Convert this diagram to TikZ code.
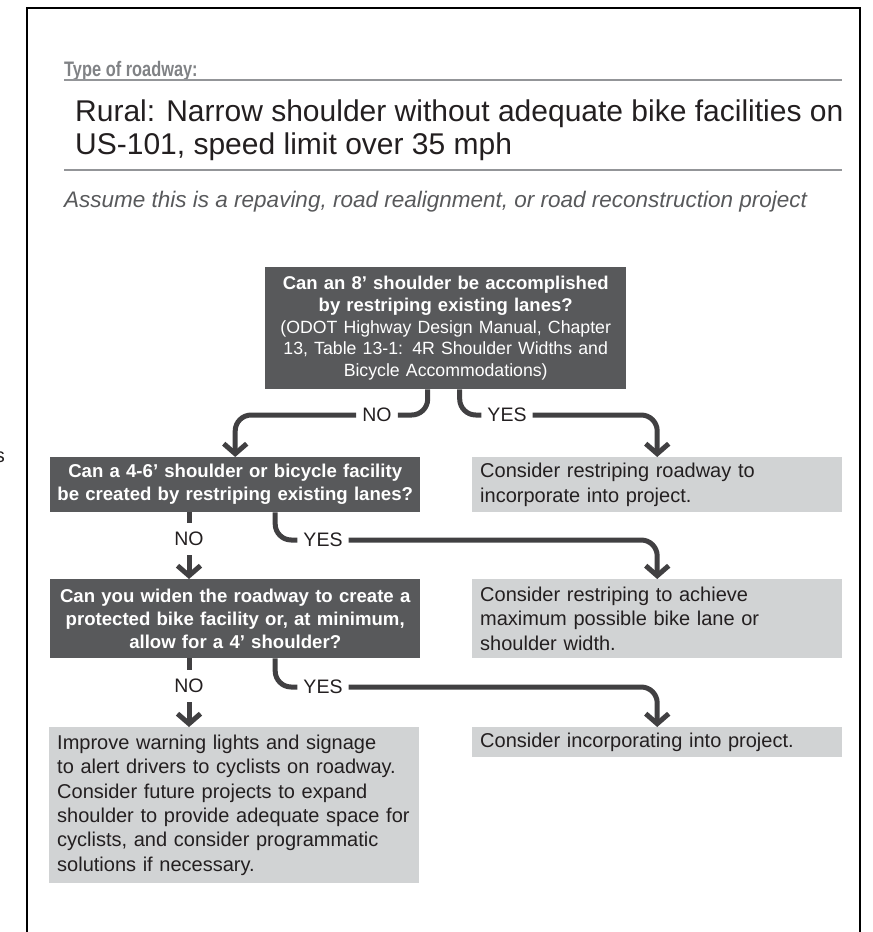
\documentclass[tikz,border=0pt]{standalone}
\usepackage{fontspec}
\setmainfont{Liberation Sans}
\newfontfamily\condfont[FakeStretch=0.78]{Liberation Sans}
\usetikzlibrary{arrows.meta,positioning,calc}
\definecolor{boxdark}{HTML}{58595B}
\definecolor{boxlight}{HTML}{D1D3D4}
\definecolor{flowgray}{HTML}{414042}
\definecolor{textdark}{HTML}{231F20}
\definecolor{headgray}{HTML}{808285}
\definecolor{rulegray}{HTML}{939598}

\tikzset{
  question/.style={fill=boxdark,text=white,font=\fontsize{18.6}{23}\selectfont\bfseries,align=center,text width=366pt,inner xsep=2pt,inner ysep=0pt,anchor=north west},
  action/.style={fill=boxlight,text=textdark,font=\fontsize{20}{24.4}\selectfont,align=left,text width=354pt,inner xsep=8pt,inner ysep=0pt,anchor=north west},
  flowline/.style={draw=flowgray,line width=5pt,rounded corners=16pt},
  flow/.style={flowline,-{Straight Barb[length=10pt,width=23pt]}},
  answer/.style={font=\fontsize{19.5}{23}\selectfont,text=textdark,inner xsep=6pt,inner ysep=2pt},
}

\begin{document}
\begin{tikzpicture}[x=1pt,y=-1pt]
\useasboundingbox (0,0) rectangle (873,932);
% frame
\draw[black,line width=2pt] (27,932) -- (27,8) -- (860,8) -- (860,932);
\node[anchor=base east,inner sep=0,font=\fontsize{20}{24}\selectfont,text=textdark] (edge) at (5,462) {s};

% header
\node[anchor=base west,inner sep=0,font=\fontsize{21}{24}\condfont\bfseries,text=headgray] (kind) at (64,76) {Type of roadway:};
\draw[rulegray,line width=1.5pt] (64,80) -- (842,80);
\node[anchor=base west,inner sep=0,font=\fontsize{30}{33}\selectfont,text=textdark] (rural1) at (75,121) {Rural: Narrow shoulder without adequate bike facilities on};
\node[anchor=base west,inner sep=0,font=\fontsize{30}{33}\selectfont,text=textdark] (rural2) at ([yshift=-33pt]rural1.base west) {US-101, speed limit over 35 mph};
\draw[rulegray,line width=1.5pt] (64,170) -- (842,170);
\node[anchor=base west,inner sep=0,font=\fontsize{22.5}{26}\selectfont\itshape,text=boxdark] (assume) at (64,207) {Assume this is a repaving, road realignment, or road reconstruction project};

% questions
\node[question,text width=353pt,inner xsep=4pt,minimum height=122pt,font=\fontsize{18.5}{21.7}\selectfont\bfseries] (q1) at (265,267) {Can an 8’ shoulder be accomplished\\by restriping existing lanes?\\{\mdseries\fontsize{17.7}{21.7}\selectfont (ODOT Highway Design Manual, Chapter\\13, Table 13-1: 4R Shoulder Widths and\\Bicycle Accommodations)}};
\node[question,minimum height=55pt] (q2) at (50,457) {Can a 4-6’ shoulder or bicycle facility\\be created by restriping existing lanes?};
\node[question,minimum height=79pt] (q3) at (50,579) {Can you widen the roadway to create a\\protected bike facility or, at minimum,\\allow for a 4’ shoulder?};

% actions
\node[action,minimum height=55pt] (r1) at (472,457) {Consider restriping roadway to\\incorporate into project.};
\node[action,minimum height=79pt] (r2) at (472,579) {Consider restriping to achieve\\maximum possible bike lane or\\shoulder width.};
\node[action,minimum height=30pt] (r3) at (472,727) {Consider incorporating into project.};
\node[action,minimum height=156pt] (a4) at (49,727) {Improve warning lights and signage\\to alert drivers to cyclists on roadway.\\Consider future projects to expand\\shoulder to provide adequate space for\\cyclists, and consider programmatic\\solutions if necessary.};

% answers
\node[answer] (no1) at (377,415) {NO};
\node[answer] (yes1) at (507,415) {YES};
\node[answer,minimum height=32pt] (no2) at (189,539) {NO};
\node[answer] (yes2) at (323,540) {YES};
\node[answer,minimum height=32pt] (no3) at (189,686) {NO};
\node[answer] (yes3) at (323,687) {YES};

% connectors
\draw[flowline] ([xshift=-18pt]q1.south) |- (no1.east);
\draw[flow] (no1.west) -| (q2.north);
\draw[flowline] ([xshift=14pt]q1.south) |- (yes1.west);
\draw[flow] (yes1.east) -| (r1.north);
\draw[flowline] (q2.south -| no2.north) -- (no2.north);
\draw[flow] (no2.south) -- (no2.south |- q3.north);
\draw[flowline] ([xshift=40pt]q2.south) |- (yes2.west);
\draw[flow] (yes2.east) -| (r2.north);
\draw[flowline] (q3.south -| no3.north) -- (no3.north);
\draw[flow] (no3.south) -- (no3.south |- a4.north);
\draw[flowline] ([xshift=40pt]q3.south) |- (yes3.west);
\draw[flow] (yes3.east) -| (r3.north);
\end{tikzpicture}
\end{document}
